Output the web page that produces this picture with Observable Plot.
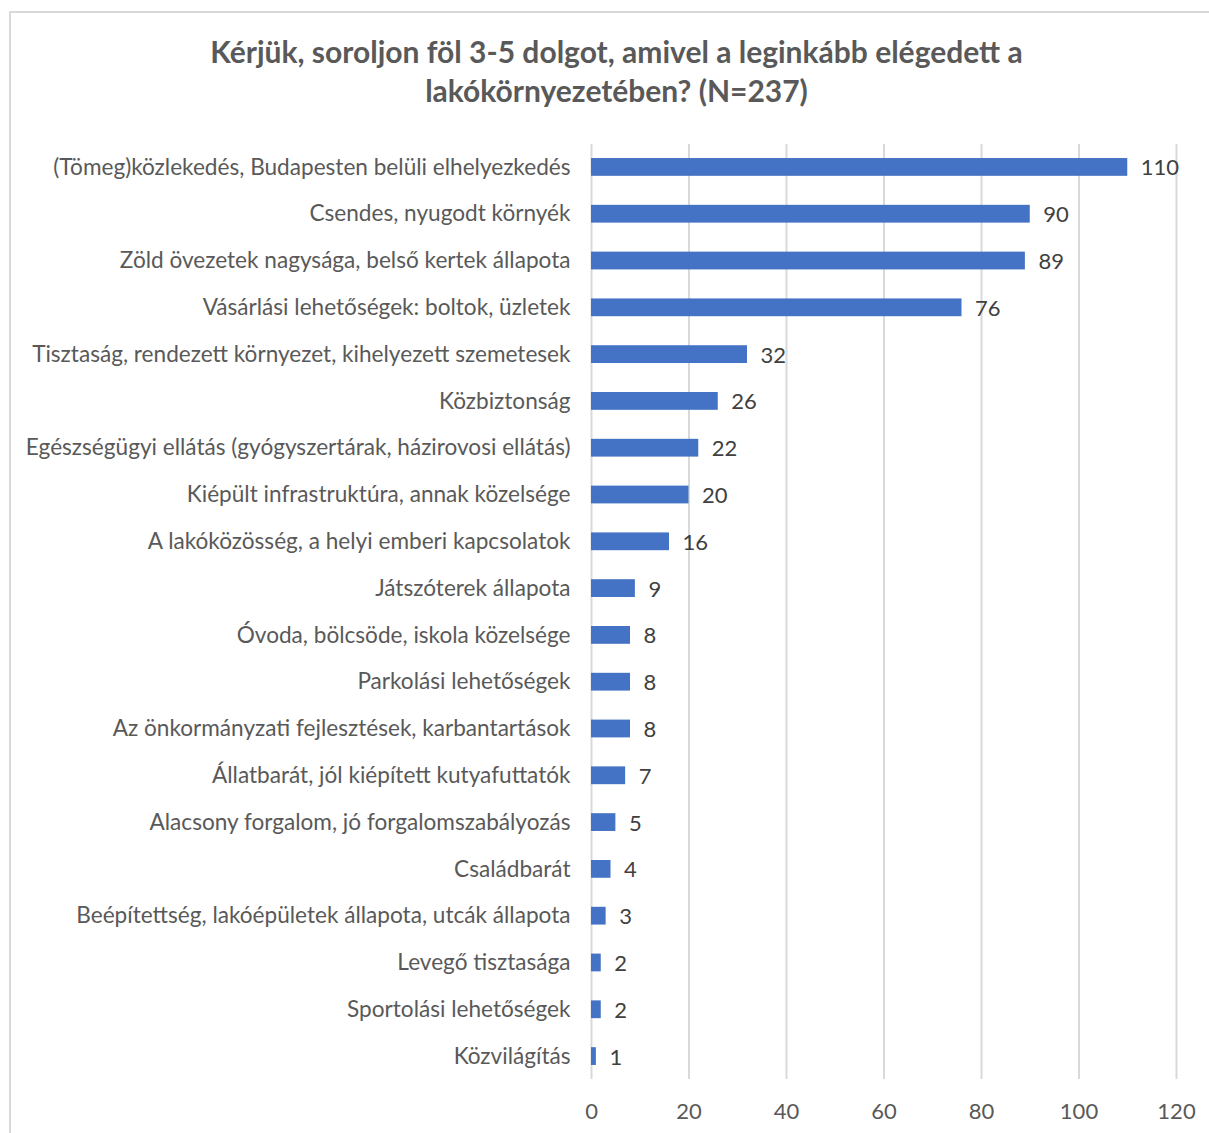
<!DOCTYPE html>
<html>
<head>
<meta charset="utf-8">
<script src="https://cdn.jsdelivr.net/npm/d3@7"></script>
<script src="https://cdn.jsdelivr.net/npm/@observablehq/plot@0.6"></script>
<style>
  html, body { margin: 0; padding: 0; background: #fff; }
  body { width: 1209px; height: 1133px; overflow: hidden; position: relative; font-family: Lato, "Open Sans", sans-serif; }
  #frame { position: absolute; left: 9px; top: 11px; width: 1300px; height: 1300px; border-left: 2px solid #d9d9d9; border-top: 2px solid #d9d9d9; box-sizing: border-box; pointer-events: none; }
  #title { position: relative; height: 130px; box-sizing: border-box; padding-top: 32px; padding-left: 24px; text-align: center; font-weight: bold; font-size: 30px; line-height: 39px; color: #595959; }
  #chart { position: relative; }
</style>
</head>
<body>
<div id="frame"></div>
<div id="title">Kérjük, soroljon föl 3-5 dolgot, amivel a leginkább elégedett a<br>lakókörnyezetében? (N=237)</div>
<div id="chart"></div>
<script>
const categories = [
  "(Tömeg)közlekedés, Budapesten belüli elhelyezkedés",
  "Csendes, nyugodt környék",
  "Zöld övezetek nagysága, belső kertek állapota",
  "Vásárlási lehetőségek: boltok, üzletek",
  "Tisztaság, rendezett környezet, kihelyezett szemetesek",
  "Közbiztonság",
  "Egészségügyi ellátás (gyógyszertárak, házirovosi ellátás)",
  "Kiépült infrastruktúra, annak közelsége",
  "A lakóközösség, a helyi emberi kapcsolatok",
  "Játszóterek állapota",
  "Óvoda, bölcsöde, iskola közelsége",
  "Parkolási lehetőségek",
  "Az önkormányzati fejlesztések, karbantartások",
  "Állatbarát, jól kiépített kutyafuttatók",
  "Alacsony forgalom, jó forgalomszabályozás",
  "Családbarát",
  "Beépítettség, lakóépületek állapota, utcák állapota",
  "Levegő tisztasága",
  "Sportolási lehetőségek",
  "Közvilágítás"
];
const values = [110, 90, 89, 76, 32, 26, 22, 20, 16, 9, 8, 8, 8, 7, 5, 4, 3, 2, 2, 1];
const xTicks = [0, 20, 40, 60, 80, 100, 120];

const data = categories.map((c, i) => ({category: c, value: values[i]}));

const chart = Plot.plot({
  width: 1209,
  height: 1003,
  marginLeft: 591,
  marginRight: 33,
  marginTop: 14,
  marginBottom: 54,
  style: {fontFamily: "Lato, 'Open Sans', sans-serif", background: "transparent"},
  x: {domain: [0, 120], ticks: xTicks},
  y: {domain: categories, paddingInner: 0.62, paddingOuter: 0.3, round: false},
  marks: [
    Plot.gridX(xTicks, {stroke: "#d9d9d9", strokeOpacity: 1, strokeWidth: 2}),
    Plot.barX(data, {x: "value", y: "category", fill: "#4472c4"}),
    Plot.text(data, {x: "value", y: "category", text: d => String(d.value), textAnchor: "start", dx: 13, dy: 1, fontSize: 22, fill: "#404040"}),
    Plot.axisY({tickSize: 0, tickPadding: 21, fontSize: 22.6, fill: "#595959", label: null}),
    Plot.axisX(xTicks, {tickSize: 0, tickPadding: 24, fontSize: 22, fill: "#595959", label: null})
  ]
});
document.getElementById("chart").appendChild(chart);
</script>
</body>
</html>
